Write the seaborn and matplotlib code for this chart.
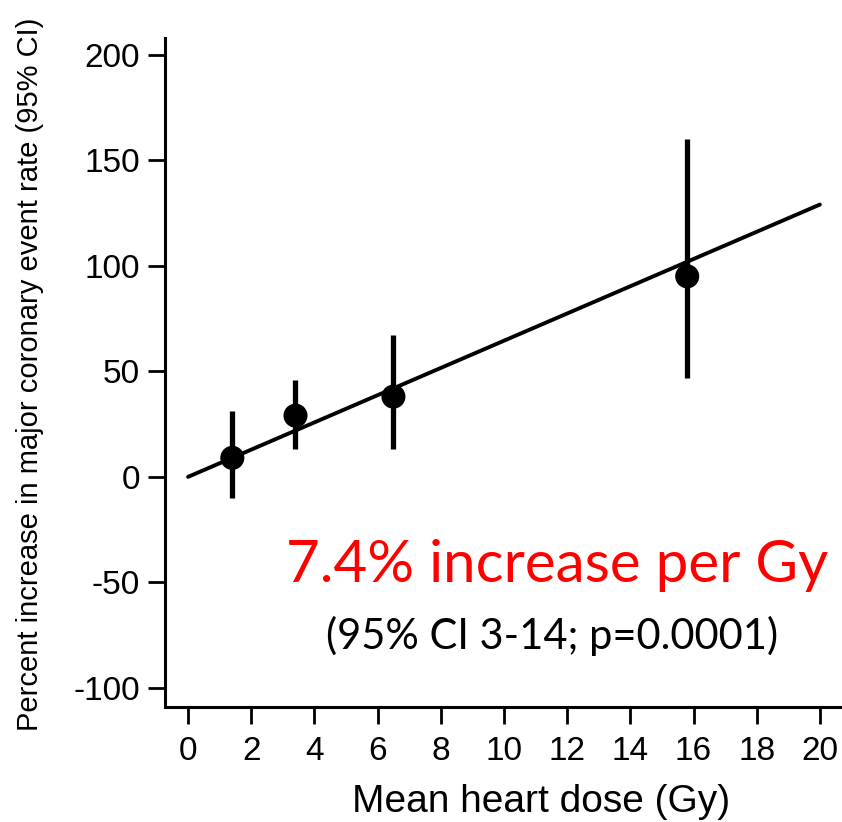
import matplotlib
matplotlib.use("Agg")
import matplotlib.pyplot as plt
import seaborn as sns
import pandas as pd

dose = [1.4, 3.4, 6.5, 15.8]
pct = [9, 29, 38, 95]
ci_low = [-10, 13, 13, 47]
ci_high = [31, 46, 67, 160]
fit_x = [0, 20]
fit_y = [0, 129]
xticks = list(range(0, 21, 2))
yticks = [-100, -50, 0, 50, 100, 150, 200]

sns.set_theme(style="ticks")
plt.rcParams['font.family'] = ['Liberation Sans', 'DejaVu Sans']
plt.rcParams['axes.unicode_minus'] = False

fig = plt.figure(figsize=(8.42, 8.22), dpi=100)
ax = fig.add_axes([0.196, 0.140, 0.804, 0.814])

df = pd.DataFrame({"dose": dose, "pct": pct})
fit = pd.DataFrame({"x": fit_x, "y": fit_y})

sns.lineplot(data=fit, x="x", y="y", ax=ax, color="black", lw=2.8)
ax.vlines(dose, ci_low, ci_high, color="black", lw=3.8)
sns.scatterplot(data=df, x="dose", y="pct", ax=ax, color="black", s=300,
                marker="o", edgecolor="none", zorder=5)

ax.set_xlim(-0.73, 20.7)
ax.set_ylim(-109, 208)
ax.set_xticks(xticks)
ax.set_yticks(yticks)
ax.tick_params(axis="both", direction="out", length=12, width=2, labelsize=24,
               colors="black")
ax.tick_params(axis="y", pad=6)
ax.tick_params(axis="x", pad=9)
for s in ["top", "right"]:
    ax.spines[s].set_visible(False)
for s in ["left", "bottom"]:
    ax.spines[s].set_linewidth(2.2)
    ax.spines[s].set_color("black")

ax.set_xlabel("Mean heart dose (Gy)", fontsize=28, color="black", va="center")
ax.xaxis.set_label_coords(0.556, -0.142)
ax.set_ylabel("Percent increase in major coronary event rate (95% CI)",
              fontsize=21, color="black", va="center",
              family=['Liberation Sans Narrow', 'Liberation Sans'])
ax.yaxis.set_label_coords(-0.200, 0.497)

ax.text(0.579, 0.212, "7.4% increase per Gy", transform=ax.transAxes,
        ha="center", va="center", fontsize=42, color="#ff0000",
        family=['Lato', 'DejaVu Sans'])
ax.text(0.572, 0.106, "(95% CI 3-14; p=0.0001)", transform=ax.transAxes,
        ha="center", va="center", fontsize=30, color="black",
        family=['Lato', 'DejaVu Sans'])

fig.savefig("out.png", dpi=100)
